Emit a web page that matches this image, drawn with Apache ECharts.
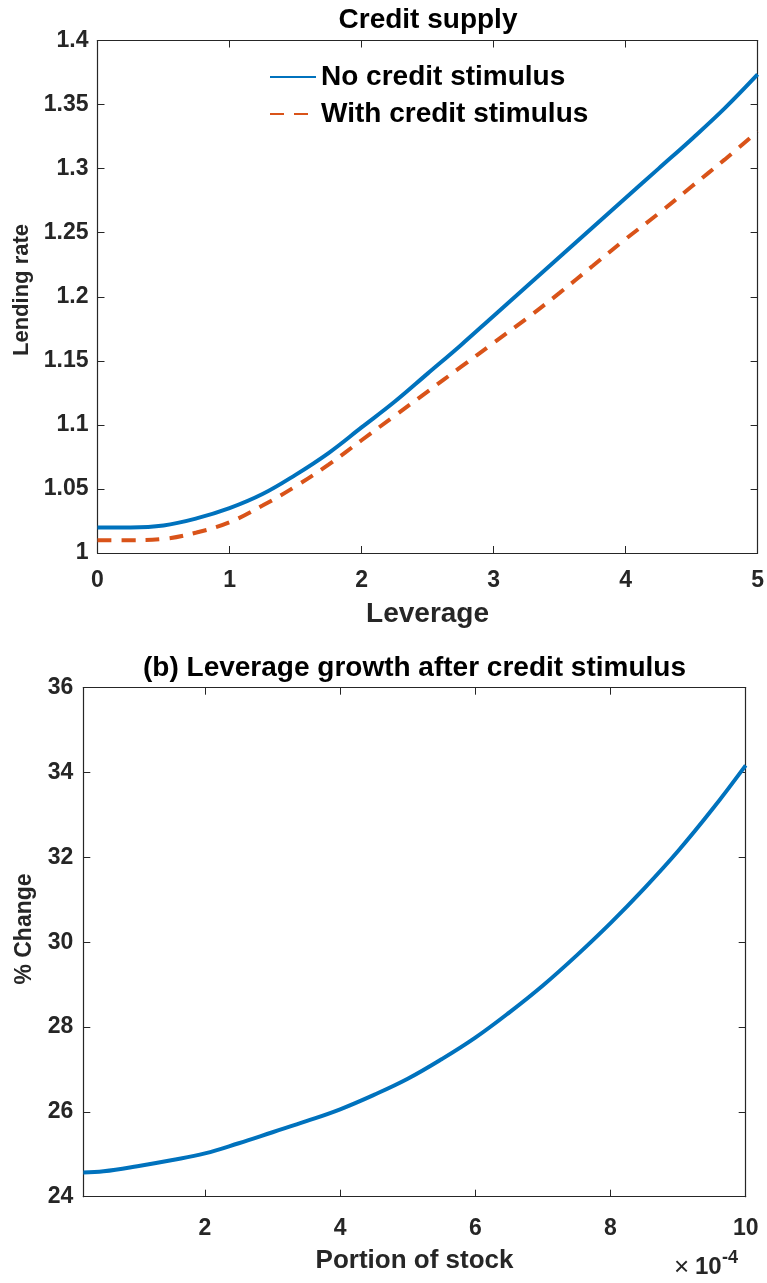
<!DOCTYPE html>
<html>
<head>
<meta charset="utf-8">
<script src="https://cdn.jsdelivr.net/npm/echarts@6.0.0/dist/echarts.min.js"></script>
<style>
html,body{margin:0;padding:0;background:#fff;}
#chart{width:767px;height:1283px;}
</style>
</head>
<body>
<div id="chart"></div>
<script>
// ---- Top panel: Credit supply ----
const leverage = [0, 0.25, 0.5, 0.75, 1.0, 1.25, 1.5, 1.75, 2.0, 2.25, 2.5, 2.75, 3.0, 3.25, 3.5, 3.75, 4.0, 4.25, 4.5, 4.75, 5.0];
const noStimulus = [1.020, 1.020, 1.0215, 1.027, 1.035, 1.046, 1.061, 1.078, 1.098, 1.118, 1.140, 1.162, 1.185, 1.208, 1.231, 1.254, 1.277, 1.300, 1.323, 1.347, 1.3735];
const withStimulus = [1.010, 1.010, 1.011, 1.016, 1.024, 1.037, 1.052, 1.069, 1.088, 1.107, 1.126, 1.145, 1.164, 1.183, 1.203, 1.224, 1.245, 1.265, 1.286, 1.307, 1.329];

// ---- Bottom panel: Leverage growth (x in units of 1e-4) ----
const portion = [0.2, 0.5, 1.0, 1.5, 2.0, 2.5, 3.0, 3.5, 4.0, 4.5, 5.0, 5.5, 6.0, 6.5, 7.0, 7.5, 8.0, 8.5, 9.0, 9.5, 10.0];
const pctChange = [24.57, 24.60, 24.72, 24.86, 25.02, 25.26, 25.52, 25.78, 26.06, 26.40, 26.78, 27.24, 27.75, 28.34, 28.98, 29.69, 30.45, 31.27, 32.15, 33.12, 34.17];
const bottomXTicks = [2, 4, 6, 8, 10];

const FONT = '"Liberation Sans", Arial, Helvetica, sans-serif';
const AX = '#262626';
const BLUE = '#0072BD';
const ORANGE = '#D95319';

const zip = (xs, ys) => xs.map((x, i) => [x, ys[i]]);

function boxAxis(extra) {
  return Object.assign({
    type: 'value',
    axisLine: { show: true, onZero: false, lineStyle: { color: AX, width: 1.2 } },
    axisTick: { show: true, inside: true, length: 7, lineStyle: { color: AX, width: 1 } },
    splitLine: { show: false },
    axisLabel: { show: false }
  }, extra);
}
const labelStyle = { color: '#262626', fontFamily: FONT, fontWeight: 'bold', fontSize: 23 };
const nameStyle = (size) => ({ color: '#262626', fontFamily: FONT, fontWeight: 'bold', fontSize: size });

const chart = echarts.init(document.getElementById('chart'), null, { renderer: 'canvas' });

chart.setOption({
  animation: false,
  backgroundColor: '#ffffff',
  grid: [
    { left: 97.5, top: 40.5, width: 661.5, height: 512.5, containLabel: false },
    { left: 83.3, top: 687.7, width: 662.4, height: 509, containLabel: false }
  ],
  xAxis: [
    boxAxis({ gridIndex: 0, position: 'bottom', min: 0, max: 5, interval: 1,
      axisLabel: Object.assign({ show: true, margin: 16 }, labelStyle),
      name: 'Leverage', nameLocation: 'middle', nameGap: 47, nameTextStyle: nameStyle(28) }),
    boxAxis({ gridIndex: 0, position: 'top', min: 0, max: 5, interval: 1 }),
    boxAxis({ gridIndex: 1, position: 'bottom', min: 0.2, max: 10,
      axisTick: { show: true, inside: true, length: 7, lineStyle: { color: AX, width: 1 }, customValues: bottomXTicks },
      axisLabel: Object.assign({ show: true, margin: 20, customValues: bottomXTicks }, labelStyle),
      name: 'Portion of stock', nameLocation: 'middle', nameGap: 51, nameTextStyle: nameStyle(26) }),
    boxAxis({ gridIndex: 1, position: 'top', min: 0.2, max: 10,
      axisTick: { show: true, inside: true, length: 7, lineStyle: { color: AX, width: 1 }, customValues: bottomXTicks } })
  ],
  yAxis: [
    boxAxis({ gridIndex: 0, position: 'left', min: 1, max: 1.4, interval: 0.05,
      axisLabel: Object.assign({ show: true, margin: 9 }, labelStyle) }),
    boxAxis({ gridIndex: 0, position: 'right', min: 1, max: 1.4, interval: 0.05 }),
    boxAxis({ gridIndex: 1, position: 'left', min: 24, max: 36, interval: 2,
      axisLabel: Object.assign({ show: true, margin: 10 }, labelStyle) }),
    boxAxis({ gridIndex: 1, position: 'right', min: 24, max: 36, interval: 2 })
  ],
  legend: {
    orient: 'vertical',
    left: 264, top: 58,
    itemWidth: 46, itemHeight: 14, itemGap: 9,
    itemStyle: { opacity: 0 },
    textStyle: { color: '#000', fontFamily: FONT, fontWeight: 'bold', fontSize: 28 },
    data: ['No credit stimulus', 'With credit stimulus']
  },
  series: [
    { name: 'No credit stimulus', type: 'line', xAxisIndex: 0, yAxisIndex: 0,
      data: zip(leverage, noStimulus), smooth: 0.4, showSymbol: false, symbol: 'none',
      lineStyle: { color: BLUE, width: 4 }, itemStyle: { color: BLUE } },
    { name: 'With credit stimulus', type: 'line', xAxisIndex: 0, yAxisIndex: 0,
      data: zip(leverage, withStimulus), smooth: 0.4, showSymbol: false, symbol: 'none',
      lineStyle: { color: ORANGE, width: 4, type: [14, 10] }, itemStyle: { color: ORANGE } },
    { name: 'Leverage growth', type: 'line', xAxisIndex: 2, yAxisIndex: 2,
      data: zip(portion, pctChange), smooth: 0.4, showSymbol: false, symbol: 'none',
      lineStyle: { color: BLUE, width: 4 }, itemStyle: { color: BLUE } }
  ],
  graphic: [
    { type: 'text',
      style: { x: 428, y: 20, text: 'Credit supply', fill: '#000', fontFamily: FONT, fontWeight: 'bold', fontSize: 28, align: 'center', verticalAlign: 'middle' } },
    { type: 'text',
      style: { x: 414.5, y: 668, text: '(b) Leverage growth after credit stimulus', fill: '#000', fontFamily: FONT, fontWeight: 'bold', fontSize: 28, align: 'center', verticalAlign: 'middle' } },
    { type: 'text', x: 22, y: 290, rotation: Math.PI / 2,
      style: { x: 0, y: 0, text: 'Lending rate', fill: '#262626', fontFamily: FONT, fontWeight: 'bold', fontSize: 22, align: 'center', verticalAlign: 'middle' } },
    { type: 'text', x: 25, y: 929, rotation: Math.PI / 2,
      style: { x: 0, y: 0, text: '% Change', fill: '#262626', fontFamily: FONT, fontWeight: 'bold', fontSize: 23, align: 'center', verticalAlign: 'middle' } },
    { type: 'text',
      style: { x: 674, y: 1268, text: '×', fill: '#262626', fontFamily: FONT, fontSize: 26, align: 'left', verticalAlign: 'middle' } },
    { type: 'text',
      style: { x: 695, y: 1267, text: '10', fill: '#262626', fontFamily: FONT, fontWeight: 'bold', fontSize: 24, align: 'left', verticalAlign: 'middle' } },
    { type: 'text',
      style: { x: 722, y: 1258, text: '-4', fill: '#262626', fontFamily: FONT, fontWeight: 'bold', fontSize: 18, align: 'left', verticalAlign: 'middle' } }
  ]
});
</script>
</body>
</html>
